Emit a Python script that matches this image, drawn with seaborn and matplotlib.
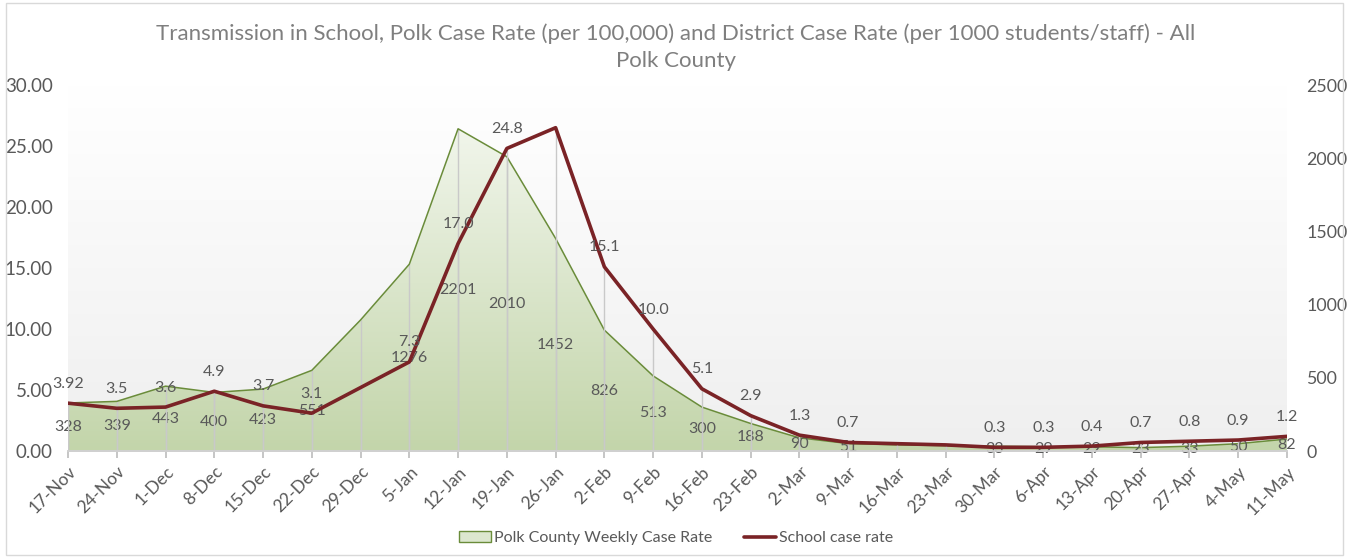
import numpy as np
import pandas as pd
import matplotlib
matplotlib.use("Agg")
import matplotlib.pyplot as plt
from matplotlib.patches import Rectangle, Patch
from matplotlib.lines import Line2D
from matplotlib.colors import LinearSegmentedColormap
import seaborn as sns

weeks = ['17-Nov', '24-Nov', '1-Dec', '8-Dec', '15-Dec', '22-Dec', '29-Dec', '5-Jan',
         '12-Jan', '19-Jan', '26-Jan', '2-Feb', '9-Feb', '16-Feb', '23-Feb', '2-Mar',
         '9-Mar', '16-Mar', '23-Mar', '30-Mar', '6-Apr', '13-Apr', '20-Apr', '27-Apr',
         '4-May', '11-May']

# Polk County weekly case rate (right axis)
polk_rate = [328, 339, 443, 400, 423, 551, 895, 1276, 2201, 2010, 1452, 826, 513,
             300, 188, 90, 51, 42, 37, 33, 29, 29, 23, 33, 50, 82]
polk_labels = ['328', '339', '443', '400', '423', '551', None, '1276', '2201', '2010',
               '1452', '826', '513', '300', '188', '90', '51', None, None, '33', '29',
               '29', '23', '33', '50', '82']

# school case rate (left axis)
school_rate = [3.92, 3.5, 3.6, 4.9, 3.7, 3.1, 5.2, 7.3, 17.0, 24.8, 26.5, 15.1, 10.0,
               5.1, 2.9, 1.3, 0.7, 0.6, 0.5, 0.3, 0.3, 0.4, 0.7, 0.8, 0.9, 1.2]
school_labels = ['3.92', '3.5', '3.6', '4.9', '3.7', '3.1', None, '7.3', '17.0', '24.8',
                 None, '15.1', '10.0', '5.1', '2.9', '1.3', '0.7', None, None, '0.3',
                 '0.3', '0.4', '0.7', '0.8', '0.9', '1.2']

df = pd.DataFrame({'week': weeks, 'pos': np.arange(len(weeks)),
                   'polk': polk_rate, 'school': school_rate})

sns.set_theme(style='white')
plt.rcParams['font.family'] = ['Lato', 'DejaVu Sans']

txt = '#595959'
green_edge = '#6a8c3a'
red = '#7a2326'
drop = '#c9c9c9'

fig = plt.figure(figsize=(13.52, 5.58), dpi=100)
ax = fig.add_axes([68 / 1352, 1 - 451 / 558, (1287 - 68) / 1352, (451 - 85) / 558])
ax2 = ax.twinx()

n = len(weeks)

# plot area background gradient
bg = LinearSegmentedColormap.from_list('bg', ['#efefef', '#ffffff'])
ax.imshow(np.linspace(0, 1, 256).reshape(-1, 1), cmap=bg, aspect='auto',
          origin='lower', extent=[0, 1, 0, 1], transform=ax.transAxes, zorder=0)

# gradient-filled area
fill = ax.fill_between(df['pos'], 0, df['polk'], color='none', zorder=1)
gr = LinearSegmentedColormap.from_list('gr', ['#c3d5aa', '#f3f7ee'])
img = ax.imshow(np.linspace(0, 1, 256).reshape(-1, 1), cmap=gr, aspect='auto',
                origin='lower', extent=[0, n - 1, 0, 2300], zorder=1)
img.set_clip_path(fill.get_paths()[0], transform=ax.transData)
ax.vlines(df['pos'], 0, df['polk'], color=drop, lw=1, zorder=2)
sns.lineplot(data=df, x='pos', y='polk', ax=ax, color=green_edge, lw=1.1, zorder=3)
ax.set_xlim(0, n - 1)
ax.set_ylim(0, 2500)

for i, (v, lab) in enumerate(zip(polk_rate, polk_labels)):
    if lab:
        ax.text(i, v / 2, lab, ha='center', va='center', fontsize=11.5, color=txt, zorder=4)

# school line
ax2.vlines(df['pos'], 0, df['school'], color=drop, lw=1, zorder=1)
sns.lineplot(data=df, x='pos', y='school', ax=ax2, color=red, lw=2.6, zorder=3)
ax2.set_ylim(0, 30)
for i, (v, lab) in enumerate(zip(school_rate, school_labels)):
    if lab:
        ax2.annotate(lab, (i, v), xytext=(0, 14), textcoords='offset points',
                     ha='center', va='center', fontsize=11.5, color=txt, zorder=4)

# axes styling
ax.set_xticks(df['pos'])
ax.set_xticklabels(weeks, rotation=45, ha='right', rotation_mode='anchor',
                   fontsize=12.5, color=txt)
ax.tick_params(axis='x', length=5, color='#bfbfbf', pad=4, bottom=True)
ax.yaxis.tick_right()
ax.set_yticks(np.arange(0, 2501, 500))
ax.set_yticklabels([str(t) for t in range(0, 2501, 500)], fontsize=12.8, color=txt)
ax.tick_params(axis='y', length=0, pad=14)
ax2.yaxis.tick_left()
ax2.set_yticks(np.arange(0, 31, 5))
ax2.set_yticklabels([f'{t:.2f}' for t in range(0, 31, 5)], fontsize=13.5, color=txt)
ax2.tick_params(axis='y', length=0, pad=11)
for a in (ax, ax2):
    a.set_xlabel('')
    a.set_ylabel('')
    for s in ('top', 'left', 'right'):
        a.spines[s].set_visible(False)
    a.spines['bottom'].set_color('#d0d0d0')

fig.text(0.5, 1 - 47 / 558,
         'Transmission in School, Polk Case Rate (per 100,000) and District Case Rate (per 1000 students/staff) - All\nPolk County',
         ha='center', va='center', fontsize=16, color='#7f7f7f', linespacing=1.45)

handles = [Patch(facecolor='#dce7cf', edgecolor=green_edge, lw=1),
           Line2D([0], [0], color=red, lw=2.6)]
fig.legend(handles, ['Polk County Weekly Case Rate', 'School case rate'], loc='center',
           bbox_to_anchor=(0.5, 1 - 538 / 558), ncol=2, frameon=False, fontsize=11.5,
           labelcolor=txt, handlelength=2.0, handletextpad=0.2, columnspacing=2.0)

fig.patches.append(Rectangle((6 / 1352, 3 / 558), 1337 / 1352, 552 / 558, fill=False,
                             edgecolor='#d9d9d9', lw=1, transform=fig.transFigure))

fig.savefig('out.png', dpi=100)
